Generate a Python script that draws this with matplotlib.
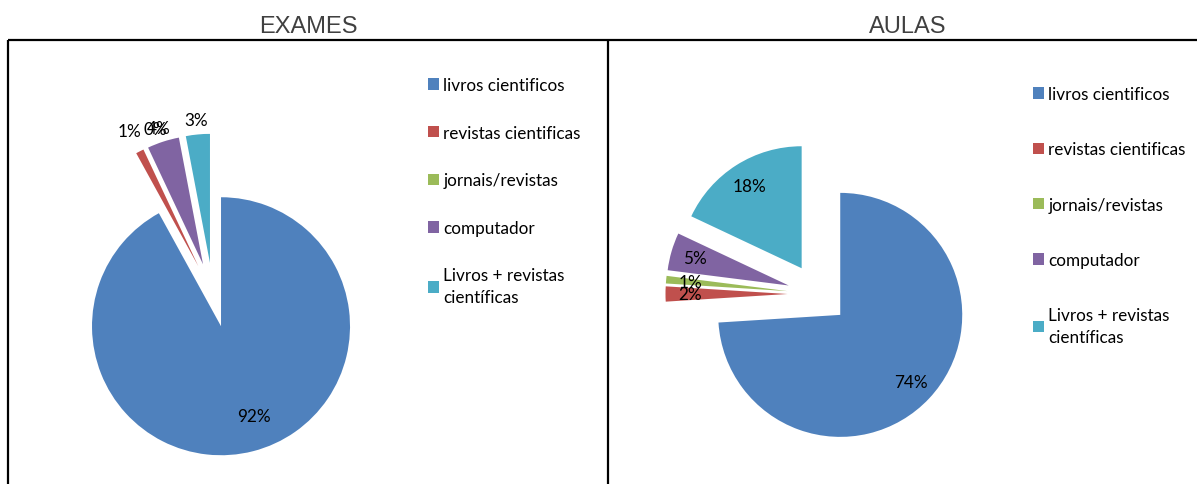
import matplotlib
matplotlib.use("Agg")
import matplotlib.pyplot as plt
import numpy as np

# Data (percent shares)
CATEGORIES = ["livros cientificos", "revistas cientificas", "jornais/revistas",
              "computador", "Livros + revistas\ncientíficas"]
EXAMES = [92, 1, 0, 4, 3]
AULAS = [74, 2, 1, 5, 18]
TITLES = ["EXAMES", "AULAS"]

COLORS = ["#4F81BD", "#C0504D", "#9BBB59", "#8064A2", "#4BACC6"]

W, H = 1197, 485
LABEL_FONT = "Lato"
TITLE_FONT = "Liberation Sans"
LABEL_SIZE = 12.3

# panel layout in image pixels (x, y-from-top)
PANELS = [
    dict(values=EXAMES, title=TITLES[0], center=(213, 296), r=129,
         title_x=308, leg_anchor=(428, 78), leg_spacing=1.85,
         pct_dist=[0.99, 1.43, 1.36, 1.36, 1.36], pct_nudge=[4.5, 0, -6, 0, 0]),
    dict(values=AULAS, title=TITLES[1], center=(818, 295), r=122,
         title_x=908, leg_anchor=(1033, 87), leg_spacing=2.3,
         pct_dist=[1.05] * 5, pct_nudge=[0] * 5),
]

fig = plt.figure(figsize=(W / 100, H / 100), dpi=100)
fig.patch.set_facecolor("white")
ax = fig.add_axes([0, 0, 1, 1])


def ypx(y):
    return H - y


# frame boxes (bottom edge falls outside the picture)
frame_kw = dict(color="black", linewidth=1.6, solid_capstyle="butt")
ax.plot([8, W], [ypx(41), ypx(41)], **frame_kw)
ax.plot([8, 8], [ypx(41), ypx(H + 5)], **frame_kw)
ax.plot([608, 608], [ypx(41), ypx(H + 5)], **frame_kw)

for i, p in enumerate(PANELS):
    cx, cy = p["center"][0], ypx(p["center"][1])
    r = p["r"]
    wedges, _, autotexts = ax.pie(
        p["values"], colors=COLORS, startangle=90, counterclock=False,
        center=(cx, cy), radius=r, explode=[0.25 * r] * len(p["values"]),
        autopct="%1.0f%%", pctdistance=0.8,
        wedgeprops=dict(linewidth=0),
        textprops=dict(family=LABEL_FONT, fontsize=LABEL_SIZE, color="black"),
        frame=True,
    )
    # move percentage labels along each wedge's bisector
    for t, w, d, n in zip(autotexts, wedges, p["pct_dist"], p["pct_nudge"]):
        th = np.deg2rad((w.theta1 + w.theta2) / 2 + n)
        t.set_position((cx + d * r * np.cos(th), cy + d * r * np.sin(th)))
        t.set_ha("center")
        t.set_va("center")

    ax.text(p["title_x"], ypx(27), p["title"], ha="center", va="center",
            fontsize=17, family=TITLE_FONT, color="#404040")

    leg = ax.legend(
        wedges, CATEGORIES, loc="upper left",
        bbox_to_anchor=(p["leg_anchor"][0], ypx(p["leg_anchor"][1])),
        bbox_transform=ax.transData, frameon=False,
        prop=dict(family=LABEL_FONT, size=LABEL_SIZE),
        labelspacing=p["leg_spacing"], handlelength=0.65, handleheight=0.65,
        handletextpad=0.25, borderpad=0, borderaxespad=0,
    )
    for t in leg.get_texts():
        t.set_linespacing(1.45)
    if i == 0:
        ax.add_artist(leg)

ax.set_xlim(0, W)
ax.set_ylim(0, H)
ax.set_aspect("equal")
ax.set_axis_off()

fig.savefig("out.png", dpi=100, facecolor="white")
